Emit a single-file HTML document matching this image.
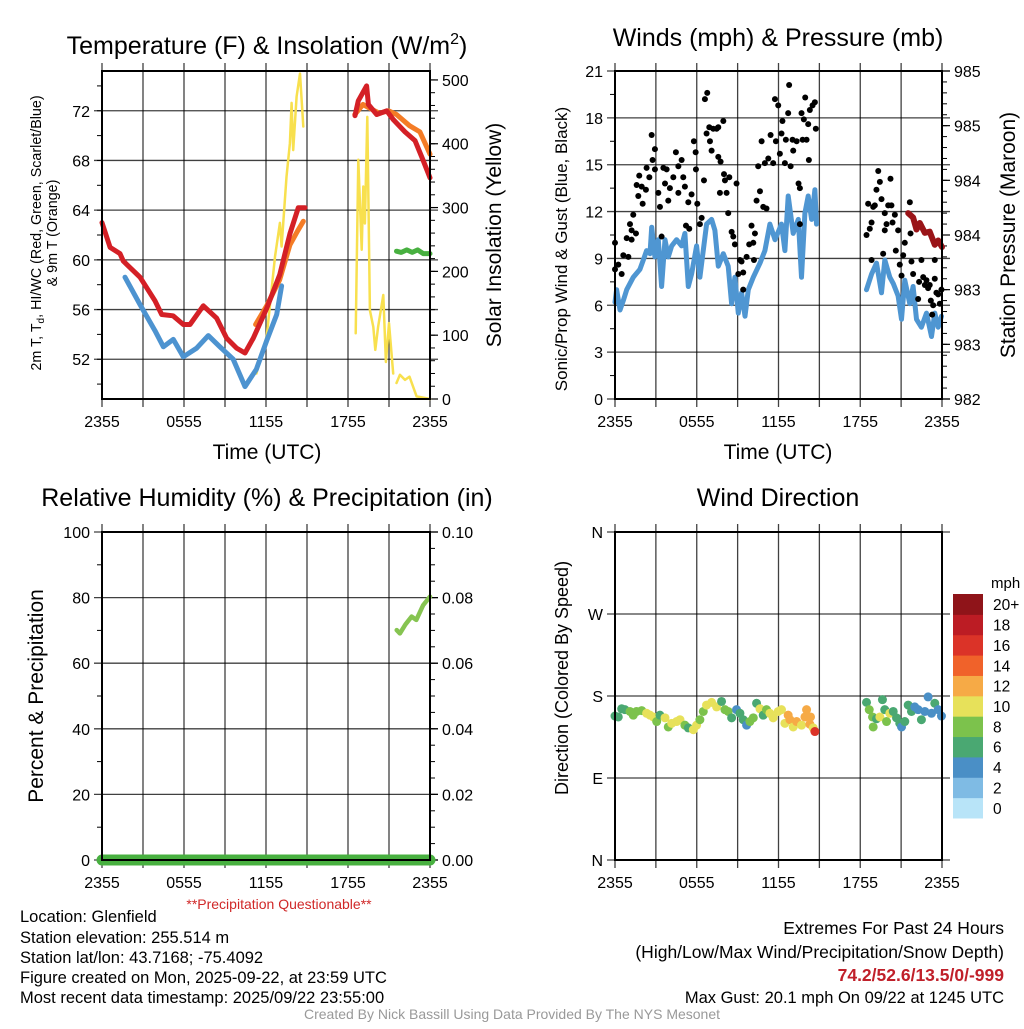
<!DOCTYPE html>
<html><head><meta charset="utf-8"><style>
body{margin:0;background:#fff;width:1024px;height:1024px;overflow:hidden;font-family:"Liberation Sans",sans-serif}
svg text{font-family:"Liberation Sans",sans-serif}
</style></head><body>
<svg id="s" width="1024" height="1024" xmlns="http://www.w3.org/2000/svg">
<g font-size="25" text-anchor="middle">
<text x="267" y="54">Temperature (F) &amp; Insolation (W/m<tspan dy="-10" font-size="16">2</tspan><tspan dy="10">)</tspan></text>
<text x="778" y="46">Winds (mph) &amp; Pressure (mb)</text>
<text x="267" y="506">Relative Humidity (%) &amp; Precipitation (in)</text>
<text x="778" y="506">Wind Direction</text>
</g>
<g font-size="21" text-anchor="middle">
<text x="267" y="459">Time (UTC)</text>
<text x="778" y="459">Time (UTC)</text>
<text transform="translate(41,233) rotate(-90)" font-size="14.3">2m T, T<tspan font-size="10" dy="3">d</tspan><tspan dy="-3">, HI/WC (Red, Green, Scarlet/Blue)</tspan></text>
<text transform="translate(57,233) rotate(-90)" font-size="14.3">&amp; 9m T (Orange)</text>
<text transform="translate(501,235) rotate(-90)">Solar Insolation (Yellow)</text>
<text transform="translate(567,249) rotate(-90)" font-size="17">Sonic/Prop Wind &amp; Gust (Blue, Black)</text>
<text transform="translate(1015,235) rotate(-90)">Station Pressure (Maroon)</text>
<text transform="translate(43,696) rotate(-90)">Percent &amp; Precipitation</text>
<text transform="translate(568,678) rotate(-90)" font-size="18">Direction (Colored By Speed)</text>
</g>
<text x="279" y="909" font-size="14" fill="#d02828" text-anchor="middle">**Precipitation Questionable**</text>
<g font-size="16.5">
<text x="20" y="922">Location: Glenfield</text>
<text x="20" y="943">Station elevation: 255.514 m</text>
<text x="20" y="963">Station lat/lon: 43.7168; -75.4092</text>
<text x="20" y="983">Figure created on Mon, 2025-09-22, at 23:59 UTC</text>
<text x="20" y="1003">Most recent data timestamp: 2025/09/22 23:55:00</text>
</g>
<g font-size="17.5" text-anchor="end">
<text x="1004" y="934">Extremes For Past 24 Hours</text>
<text x="1004" y="958">(High/Low/Max Wind/Precipitation/Snow Depth)</text>
<text x="1004" y="981" fill="#c0202a" font-weight="bold">74.2/52.6/13.5/0/-999</text>
<text x="1004" y="1003" font-size="16.5">Max Gust: 20.1 mph On 09/22 at 1245 UTC</text>
</g>
<text x="512" y="1019" font-size="14" fill="#999" text-anchor="middle">Created By Nick Bassill Using Data Provided By The NYS Mesonet</text>
</svg>
<script>
const xTickLabels=["2355","0555","1155","1755","2355"];
const tempTicks=[52,56,60,64,68,72];
const solarTicks=[0,100,200,300,400,500];
const windTicks=[0,3,6,9,12,15,18,21];
const presTicks=[982,982.5,983,983.5,984,984.5,985];
const rhTicks=[0,20,40,60,80,100];
const precipTicks=["0.00","0.02","0.04","0.06","0.08","0.10"];
const dirTicks=["N","E","S","W","N"];
// temperature (hours since 2355, F)
const t2Hours=[0,0.59,1.32,1.56,2.78,3.88,4.37,5.2,5.95,6.44,7.41,8.39,9.12,9.85,10.46,11.07,12.05,13.0,13.75,14.36,14.85,null,18.51,18.75,19.36,19.49,20.1,20.83,21.31,22.17,22.9,23.5,24];
const t2Vals=[63.0,61.0,60.5,59.9,58.6,56.7,55.6,55.5,54.8,54.8,56.3,55.3,53.7,52.9,52.5,53.7,56.1,58.8,62.1,64.2,64.2,null,71.6,72.8,74.0,72.5,71.7,72.0,71.3,70.3,69.6,68.0,66.6];
const t9Hours=[11.24,12.05,13.0,13.75,14.3,14.73,null,18.5,19.1,19.6,20.3,20.96,21.55,22.5,23.26,24];
const t9Vals=[54.8,56.3,58.4,61.2,62.3,63.1,null,71.7,72.5,72.2,71.8,72.0,71.7,70.8,70.3,68.5];
const tdHours=[1.68,2.78,3.88,4.49,5.22,5.95,6.93,7.78,8.63,9.6,10.46,11.3,12.05,12.78,13.14];
const tdVals=[58.6,56.4,54.3,53.0,53.6,52.2,52.9,53.9,53.0,52.0,49.8,51.2,53.5,55.6,57.9];
const hiHours=[21.55,21.9,22.3,22.7,23.1,23.5,24];
const hiVals=[60.7,60.6,60.8,60.6,60.8,60.5,60.5];
const solarHours=[11.3,12.05,12.66,13.02,13.14,13.5,13.75,13.87,13.99,14.24,14.49,14.73,null,18.56,18.75,19.0,19.12,19.24,19.41,19.6,19.85,20.0,20.2,20.58,20.77,21.0,21.31,null,21.55,21.8,22.17,22.5,23.02,24];
const solarVals=[40,98,223,276,239,348,401,464,390,474,510,427,null,103,375,234,333,275,442,139,113,77,113,163,58,119,40,null,25,38,30,35,4,0];
// winds
const windHours=[0,0.12,0.37,0.61,0.86,1.34,1.83,2.08,2.32,2.57,2.69,2.93,3.18,3.42,3.67,3.91,4.16,4.52,4.89,5.13,5.38,5.62,5.99,6.23,6.72,7.09,7.33,7.58,7.95,8.31,8.56,8.8,9.05,9.29,9.54,9.78,10.15,10.64,11.0,11.37,11.74,12.22,12.47,12.71,13.08,13.45,13.69,13.94,14.18,14.43,14.67,14.79,null,18.46,18.83,19.19,19.56,19.8,20.17,20.42,20.78,21.03,21.27,21.64,21.88,22.13,22.49,22.86,23.23,23.47,23.72,23.96];
const windVals=[6.2,7.0,5.7,6.3,7.0,7.8,8.3,8.9,9.5,9.3,11.0,9.1,10.2,7.2,10.2,9.1,9.8,10.2,9.8,10.6,7.2,8.0,9.8,7.8,11.2,11.5,10.8,8.5,9.3,8.5,6.1,7.8,5.5,6.8,5.3,7.0,7.8,8.7,9.5,11.2,10.2,11.2,9.5,13.0,10.6,11.5,7.8,11.9,13.0,11.5,13.4,11.2,null,7.0,8.0,8.7,6.8,8.9,7.8,7.4,6.6,5.1,7.6,6.1,7.2,5.1,4.6,5.5,4.0,5.5,4.6,5.3];
const gustHours=[0,0,0.24,0.49,0.61,0.86,0.98,1.22,1.1,1.34,1.54,1.22,1.59,1.78,1.71,1.96,2.03,2.27,2.32,2.52,2.69,2.76,2.93,2.93,3.18,3.3,3.42,3.55,3.67,3.79,3.91,4.03,4.28,4.47,4.65,4.65,4.89,5.01,5.13,5.21,5.38,5.45,5.62,5.79,5.92,5.94,6.04,6.23,6.36,6.53,6.6,6.77,6.72,6.92,6.97,7.09,7.21,7.46,7.58,7.95,7.58,7.75,7.7,8.0,8.07,8.19,8.31,8.39,8.56,8.68,8.8,8.92,9.05,9.17,9.29,9.41,9.41,9.66,9.85,10.02,10.15,10.2,10.27,10.39,10.51,10.64,10.76,10.88,11.0,11.12,11.25,11.42,11.61,11.74,11.81,11.98,12.1,12.22,12.29,12.47,12.54,12.71,12.78,12.89,13.03,13.08,13.33,13.47,13.57,13.69,13.77,13.86,13.96,14.06,14.18,14.23,14.3,14.5,14.67,14.74,13.57,18.46,18.58,18.7,18.83,18.83,18.95,19.07,19.19,19.32,19.44,19.56,19.68,19.8,19.8,19.93,20.05,20.22,20.29,20.37,20.54,20.61,20.78,20.9,21.03,21.15,21.27,21.64,21.69,21.76,21.88,22.25,22.32,22.49,22.62,22.74,22.86,22.98,23.1,23.18,23.35,23.47,23.47,23.59,23.72,23.84,23.96,23.28];
const gustVals=[10.0,8.3,8.6,8.0,9.2,10.3,9.1,10.2,11.2,11.8,10.6,10.8,13.7,14.3,13.0,13.6,12.5,13.4,14.8,14.2,16.9,15.3,16.0,14.7,13.2,12.3,10.4,14.8,13.8,14.7,12.7,13.5,14.2,15.8,14.9,13.2,15.3,14.2,13.6,11.1,12.6,10.9,13.1,16.5,15.8,14.7,12.5,11.2,11.6,14.0,19.2,19.6,17.0,17.4,16.5,15.9,17.3,17.3,17.4,17.8,15.5,15.2,13.2,14.4,14.0,13.2,11.9,14.2,10.7,10.4,9.9,13.8,8.0,8.9,8.8,7.0,8.1,9.1,9.9,11.1,10.0,8.9,10.6,12.7,14.9,13.3,16.5,12.3,15.1,12.2,15.4,16.9,15.1,19.2,16.5,18.8,15.7,17.0,17.8,15.1,16.6,18.3,20.1,14.9,16.6,15.9,16.5,13.8,13.5,18.3,16.6,17.9,19.3,16.6,17.6,15.3,18.5,18.8,19.0,17.3,11.2,10.5,12.5,10.9,8.9,11.3,12.3,12.4,13.4,14.6,13.9,12.8,9.3,11.9,10.8,11.2,12.4,14.1,12.4,11.3,11.8,9.5,10.8,8.6,7.9,9.2,10.0,12.6,10.6,8.8,8.0,6.4,7.5,8.9,7.8,7.3,7.6,7.1,7.3,6.3,6.0,8.9,7.7,6.8,6.7,6.1,7.0,5.4];
const presHours=[21.52,21.88,22.13,22.37,22.74,23.1,23.47,23.72,24];
const presVals=[983.70,983.66,983.55,983.61,983.52,983.53,983.41,983.45,983.39];
// RH / precip
const rhHours=[21.56,21.8,22.2,22.65,23.0,23.5,24];
const rhVals=[70.1,69.1,71.8,74.2,73.2,77.7,80.3];
const precipHours=[0,24];
const precipVals=[0,0];
// wind direction
const dirHours=[0,0.24,0.49,0.73,1.1,1.34,1.59,1.96,2.32,2.57,2.81,3.06,3.30,3.67,3.91,4.16,4.52,4.77,5.13,5.38,5.75,5.99,6.23,6.48,6.72,7.09,7.46,7.82,8.07,8.31,8.56,8.92,9.17,9.41,9.66,9.90,10.15,10.39,10.64,10.88,11.12,11.37,11.61,11.98,12.22,12.47,12.71,12.84,13.08,13.33,13.69,13.94,14.06,14.35,14.30,14.55,14.67,18.46,18.66,18.90,18.95,19.19,19.44,19.63,19.80,19.93,20.17,20.42,20.66,20.90,21.03,21.27,21.52,21.76,22.0,22.25,22.49,22.74,22.98,23.23,23.47,23.72,23.96];
const dirVals=[158,157,166,165,163,159,163,164,161,159,157,152,159,156,146,150,152,154,148,145,143,148,154,163,170,173,168,174,165,163,156,165,161,154,148,152,156,172,166,159,165,161,156,163,165,150,159,154,146,152,148,157,165,157,149,145,141,173,165,157,146,155,157,176,165,152,161,163,156,150,146,152,170,163,168,165,154,163,179,161,172,165,158];
const dirSpeeds=[7,7,7,7,9,9,9,9,11,11,11,9,7,11,9,11,11,11,9,7,11,11,9,9,11,11,11,7,9,9,7,5,7,7,5,9,9,7,11,7,9,11,11,11,11,11,13,13,11,13,11,13,13,13,13,11,17,7,9,9,9,7,11,7,7,9,11,7,7,7,5,7,7,7,5,5,7,5,5,5,7,5,5];
const cbColors=["#b8e4f8","#7fbbe4","#4a8fc6","#4aa872","#7cc24c","#e7e15a","#f6aa46","#f0622a","#db3328","#bc1c24","#8f1419"];
const cbLabels=["0","2","4","6","8","10","12","14","16","18","20+"];

const NS="http://www.w3.org/2000/svg";
const svg=document.getElementById('s');
function mk(tag,attrs,parent){const e=document.createElementNS(NS,tag);for(const k in attrs)e.setAttribute(k,attrs[k]);(parent||svg).appendChild(e);return e;}
function lin(d0,d1,r0,r1){return v=>r0+(v-d0)*(r1-r0)/(d1-d0);}
function pathFrom(hs,vs,xs,ys){let d="",pen=false;for(let i=0;i<hs.length;i++){if(hs[i]===null||vs[i]===null){pen=false;continue;}d+=(pen?"L":"M")+xs(hs[i]).toFixed(1)+","+ys(vs[i]).toFixed(1);pen=true;}return d;}
const TF=16;
function frame(P,name){
  const g=mk('g',{});
  
  
  const xs=lin(0,24,P.x0,P.x1);
  for(let i=0;i<=8;i++){const x=xs(i*3);
    const l=mk('line',{x1:x,x2:x,y1:P.y0-8,y2:P.y1+8,stroke:'#000','stroke-width':1.3,'stroke-opacity':0.75},g);
    
    
    if(i%2==0){const t=mk('text',{x:x,y:P.y1+28,'font-size':TF,'text-anchor':'middle'},g);t.textContent=xTickLabels[i/2];
      
      }
  }
  return {g,xs};
}
function hgrid(g,P,ys,ticks,labels,side){
  ticks.forEach((v,i)=>{const y=ys(v);
    const l=mk('line',{x1:P.x0-8,x2:P.x1+8,y1:y,y2:y,stroke:'#000','stroke-width':1.3,'stroke-opacity':0.75},g);
    
    
    const t=mk('text',{x:side=='l'?P.x0-12:P.x1+12,y:y+6,'font-size':TF,'text-anchor':side=='l'?'end':'start'},g);t.textContent=labels[i];
    
    
  });
}
function rticks(g,P,ys,ticks,labels){
  ticks.forEach((v,i)=>{const y=ys(v);
    const l=mk('line',{x1:P.x1,x2:P.x1+8,y1:y,y2:y,stroke:'#000','stroke-width':1.2},g);
    
    
    const t=mk('text',{x:P.x1+12,y:y+6,'font-size':TF},g);t.textContent=labels[i];
    
    
  });
}
function minor(g,P,ys,from,to,step,side){
  for(let v=from;v<=to+1e-9;v+=step){const y=ys(v);const x=side=='l'?P.x0:P.x1;
    const l=mk('line',{x1:side=='l'?x-5:x,x2:side=='l'?x:x+5,y1:y,y2:y,stroke:'#000','stroke-width':1},g);
    
    }
}
function box(g,P){const r=mk('rect',{x:P.x0,y:P.y0,width:P.x1-P.x0,height:P.y1-P.y0,fill:'none',stroke:'#000','stroke-width':2},g);
  
  }
function line(g,hs,vs,xs,ys,color,w,name){const p=mk('path',{d:pathFrom(hs,vs,xs,ys),fill:'none',stroke:color,'stroke-width':w,'stroke-linejoin':'round','stroke-linecap':'round'},g);
  
  }

// Panel 1
const P1={x0:102,x1:430,y0:71,y1:399};
let f=frame(P1,'temp');
const yT=lin(48.8,75.2,P1.y1,P1.y0), yS=lin(0,514,P1.y1,P1.y0);
hgrid(f.g,P1,yT,tempTicks,tempTicks.map(String),'l');
minor(f.g,P1,yT,50,74,2,'l');
rticks(f.g,P1,yS,solarTicks,solarTicks.map(String));
minor(f.g,P1,yS,20,500,20,'r');
line(f.g,solarHours,solarVals,f.xs,yS,'#f8e04e',2.5,'solar-line');
line(f.g,tdHours,tdVals,f.xs,yT,'#4d93d0',5,'dewpoint-line');
line(f.g,t9Hours,t9Vals,f.xs,yT,'#f47c26',5,'temp-9m-line');
line(f.g,t2Hours,t2Vals,f.xs,yT,'#d42026',5,'temp-2m-line');
line(f.g,hiHours,hiVals,f.xs,yT,'#48b040',5,'heat-index-line');
box(f.g,P1);

// Panel 2
const P2={x0:615,x1:942,y0:71,y1:399};
f=frame(P2,'winds');
const yW=lin(0,21,P2.y1,P2.y0), yP=lin(982,985,P2.y1,P2.y0);
hgrid(f.g,P2,yW,windTicks,windTicks.map(String),'l');
minor(f.g,P2,yW,1.5,19.5,3,'l');
rticks(f.g,P2,yP,presTicks,presTicks.map(v=>String(Math.round(v))));
minor(f.g,P2,yP,982.1,985,0.1,'r');
line(f.g,windHours,windVals,f.xs,yW,'#4f96d2',5,'sonic-wind-line');
gustHours.forEach((h,i)=>{const c=mk('circle',{cx:f.xs(h),cy:yW(gustVals[i]),r:3,fill:'#000'},f.g);
  
  });
line(f.g,presHours,presVals,f.xs,yP,'#9a1418',6,'pressure-line');
box(f.g,P2);

// Panel 3
const P3={x0:102,x1:430,y0:532,y1:860};
f=frame(P3,'rh');
const yR=lin(0,100,P3.y1,P3.y0), yPr=lin(0,0.1,P3.y1,P3.y0);
hgrid(f.g,P3,yR,rhTicks,rhTicks.map(String),'l');
minor(f.g,P3,yR,10,90,20,'l');
rticks(f.g,P3,yR,rhTicks,precipTicks);
minor(f.g,P3,yR,5,95,5,'r');
line(f.g,rhHours,rhVals,f.xs,yR,'#86c451',4.5,'rh-line');
line(f.g,precipHours,precipVals,f.xs,yPr,'#48b040',11,'precip-line');
box(f.g,P3);

// Panel 4
const P4={x0:615,x1:942,y0:532,y1:860};
f=frame(P4,'wdir');
const yD=lin(0,360,P4.y1,P4.y0);
hgrid(f.g,P4,yD,[0,90,180,270,360],dirTicks,'l');
dirHours.forEach((h,i)=>{const b=Math.min(10,Math.floor(dirSpeeds[i]/2));
  const c=mk('circle',{cx:f.xs(h),cy:yD(dirVals[i]),r:4.5,fill:cbColors[b]},f.g);
  
  });
box(f.g,P4);

// colorbar
const cb=mk('g',{});


const cbT=mk('text',{x:991,y:588,'font-size':15},cb);cbT.textContent='mph';


const bh=(818-594)/11;
cbColors.forEach((c,i)=>{const y=818-(i+1)*bh;
  const r=mk('rect',{x:953,y:y,width:30,height:bh+0.5,fill:c},cb);
  
  
  const t=mk('text',{x:993,y:y+bh/2+6,'font-size':15.5},cb);t.textContent=cbLabels[i];
  
  });
</script>
</body></html>
